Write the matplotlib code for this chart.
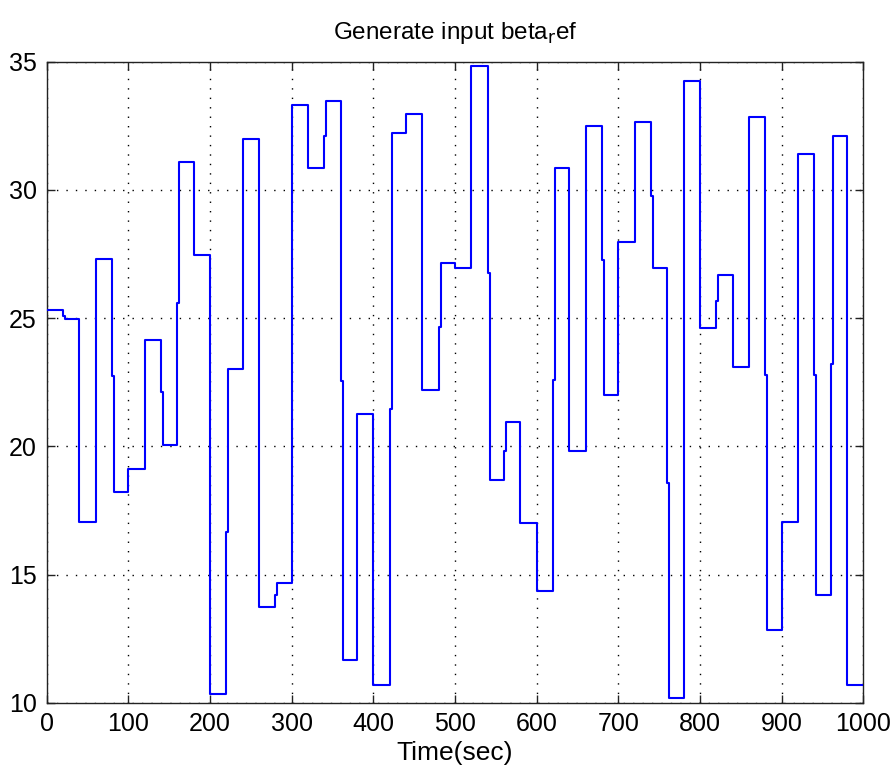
import numpy as np
import matplotlib
matplotlib.use("Agg")
import matplotlib.pyplot as plt

plt.rcParams["font.family"] = ["Liberation Sans Narrow", "Liberation Sans", "DejaVu Sans"]
plt.rcParams["mathtext.fontset"] = "custom"
plt.rcParams["mathtext.rm"] = "Liberation Sans Narrow"
plt.rcParams["mathtext.it"] = "Liberation Sans Narrow"

# Reference level held during each 20 s window (0-1000 s)
window_start = np.arange(0, 1000, 20)
levels = [25.3, 24.95, 17.05, 27.3, 18.2, 19.1, 24.15, 20.05, 31.1, 27.45,
          10.35, 23.0, 32.0, 13.75, 14.65, 33.3, 30.85, 33.45, 11.65, 21.25,
          10.7, 32.2, 32.95, 22.2, 27.15, 26.95, 34.85, 18.7, 20.95, 17.0,
          14.35, 30.85, 19.8, 32.5, 22.0, 27.95, 32.65, 26.95, 10.2, 34.25,
          24.6, 26.7, 23.1, 32.85, 12.85, 17.05, 31.4, 14.2, 32.1, 10.7]

# Short intermediate samples caught at some of the switching instants
jog_times = [20, 80, 140, 160, 220, 280, 340, 360, 420, 480,
             540, 560, 620, 680, 740, 760, 820, 880, 940, 960]
jog_values = [25.1, 22.75, 22.1, 25.6, 16.65, 14.2, 32.1, 22.55, 21.45, 24.65,
              26.75, 19.8, 22.6, 27.25, 29.75, 18.55, 25.65, 22.8, 22.8, 23.2]
jog_length = 2.5

t_end = 1000

# Assemble the sample sequence for a zero-order-hold plot
jogs = dict(zip(jog_times, jog_values))
t_samples, y_samples = [], []
for t0, lvl in zip(window_start, levels):
    if t0 in jogs:
        t_samples.append(t0)
        y_samples.append(jogs[t0])
        t_samples.append(t0 + jog_length)
        y_samples.append(lvl)
    else:
        t_samples.append(t0)
        y_samples.append(lvl)
t_samples.append(t_end)
y_samples.append(levels[-1])

W, H = 893, 774
fig = plt.figure(figsize=(W / 100, H / 100), dpi=100, facecolor="white")
left, right, top, bottom = 46.7, 863.3, 61.7, 702.7
ax = fig.add_axes([left / W, 1 - bottom / H, (right - left) / W, (bottom - top) / H])

ax.step(t_samples, y_samples, where="post", color=(0, 0, 1), linewidth=1.5, zorder=3)

ax.set_xlim(0, 1000)
ax.set_ylim(10, 35)
ax.set_xticks(np.arange(0, 1001, 100))
ax.set_yticks(np.arange(10, 36, 5))

ax.set_axisbelow(True)
ax.grid(True, color="black", linestyle=(0, (1.0, 5.8)), linewidth=1.0)

for s in ax.spines.values():
    s.set_color("#222222")
    s.set_linewidth(1.0)

ax.tick_params(direction="in", length=5.8, width=1.0, top=True, right=True,
               labelsize=18, pad=7, colors="#222222", labelcolor="black")

ax.set_title("Generate input beta$_r$ef", fontsize=17.5, pad=16)
ax.set_xlabel("Time(sec)", fontsize=19, labelpad=3)

fig.savefig("out.png", dpi=100, facecolor="white")
